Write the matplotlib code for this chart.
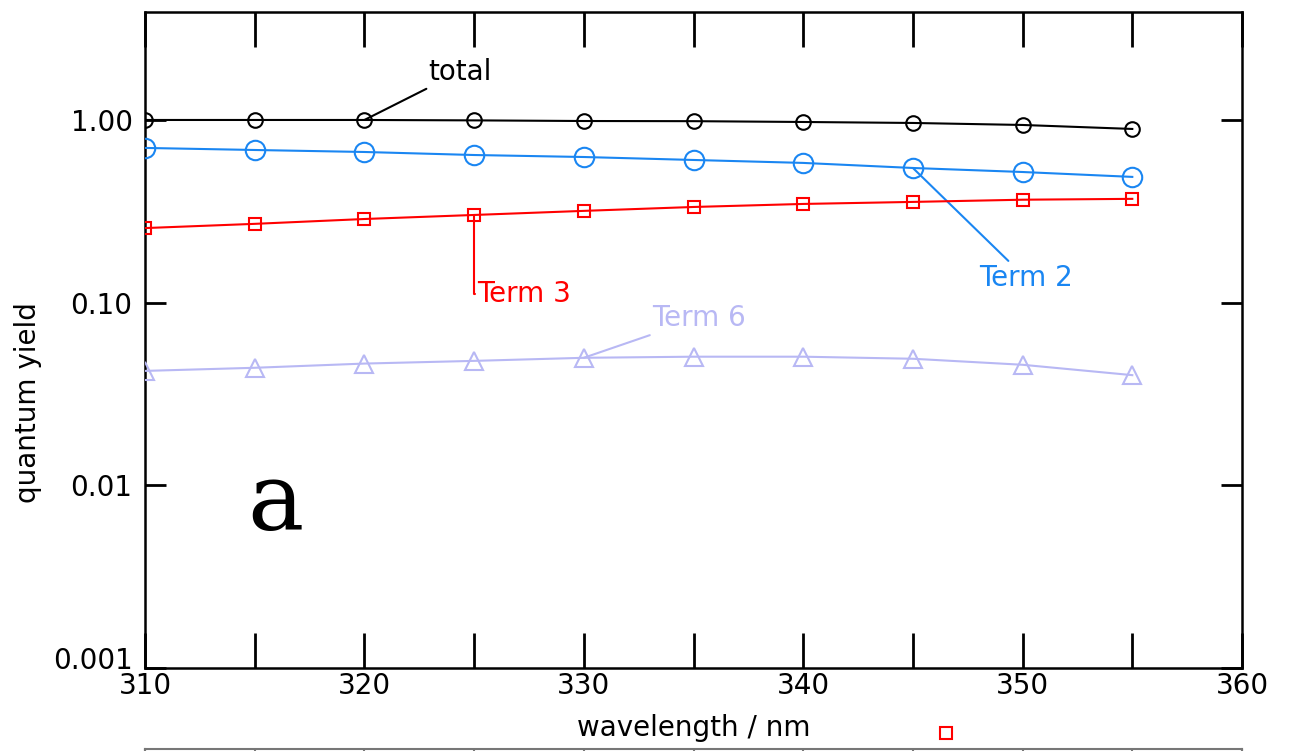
import matplotlib
matplotlib.use("Agg")
import matplotlib.pyplot as plt
import matplotlib.transforms as mtransforms
from matplotlib.lines import Line2D

wavelength = [310, 315, 320, 325, 330, 335, 340, 345, 350, 355]
total = [1.00, 1.00, 1.00, 0.995, 0.987, 0.985, 0.975, 0.963, 0.939, 0.893]
term2 = [0.703, 0.685, 0.668, 0.643, 0.627, 0.604, 0.582, 0.546, 0.519, 0.488]
term3 = [0.256, 0.270, 0.287, 0.302, 0.318, 0.334, 0.347, 0.356, 0.366, 0.370]
term6 = [0.0423, 0.0440, 0.0464, 0.0480, 0.0499, 0.0506, 0.0506, 0.0493, 0.0457, 0.0401]

xticks = [310, 320, 330, 340, 350, 360]
yticks = [0.001, 0.01, 0.1, 1.0]
ylabels = ["0.001", "0.01", "0.10", "1.00"]

plt.rcParams['font.family'] = ['DejaVu Sans']

W, H = 1292, 751
fig = plt.figure(figsize=(W / 100, H / 100), dpi=100)
ax = fig.add_axes([145 / W, 1 - 668 / H, (1242 - 145) / W, (668 - 12) / H])

black = "#000000"
blue = "#1a86f2"
red = "#ff0000"
lav = "#b8b8f4"

lw = 1.5
ax.plot(wavelength, total, color=black, lw=lw, marker='o', ms=10.5, mfc='none', mew=1.5, zorder=5)
ax.plot(wavelength, term2, color=blue, lw=lw, marker='o', ms=14, mfc='none', mew=1.5, zorder=4)
ax.plot(wavelength, term3, color=red, lw=lw, marker='s', ms=9, mfc='none', mew=1.5, zorder=4)
ax.plot(wavelength, term6, color=lav, lw=lw, marker='^', ms=13, mfc='none', mew=1.5, zorder=3)

ax.set_yscale('log')
ax.set_xlim(310, 360)
ax.set_ylim(0.001, 3.9)
ax.set_xticks(xticks)
ax.set_xticks(list(range(310, 361, 5)), minor=True)
ax.set_yticks(yticks)
ax.set_yticklabels(ylabels)
ax.yaxis.set_minor_locator(matplotlib.ticker.NullLocator())

FS = 20
ax.tick_params(axis='x', which='both', direction='in', length=25, width=2, top=True,
               labelsize=FS, pad=3)
ax.tick_params(axis='y', which='major', direction='in', length=15, width=2, right=True,
               labelsize=FS, pad=9)
# lift the lowest y label a bit, as in the reference
lbl0 = ax.get_yticklabels()[0]
lbl0.set_transform(lbl0.get_transform() + mtransforms.ScaledTranslation(0, 10 / 100, fig.dpi_scale_trans))
for sp in ax.spines.values():
    sp.set_linewidth(1.8)

ax.set_xlabel("wavelength / nm", fontsize=FS, labelpad=10)
ax.set_ylabel("quantum yield", fontsize=FS)
ax.yaxis.set_label_coords(-0.094, 0.405)

ann_kw = dict(fontsize=FS, textcoords='data', annotation_clip=False)
ax.annotate("total", xy=(320, 1.0), xytext=(322.9, 1.83), color=black,
            arrowprops=dict(arrowstyle='-', color=black, lw=1.5, shrinkA=0, shrinkB=0),
            va='center', ha='left', **ann_kw)
ax.annotate("Term 2", xy=(345, 0.546), xytext=(348.0, 0.137), color=blue,
            arrowprops=dict(arrowstyle='-', color=blue, lw=1.5, shrinkA=0, shrinkB=0),
            va='center', ha='left', **ann_kw)
ax.annotate("Term 3", xy=(325, 0.302), xytext=(325.15, 0.112), color=red,
            arrowprops=dict(arrowstyle='-', color=red, lw=1.5, shrinkA=0, shrinkB=0,
                            connectionstyle='angle,angleA=0,angleB=90,rad=0'),
            va='center', ha='left', **ann_kw)
ax.annotate("Term 6", xy=(330, 0.0499), xytext=(333.1, 0.082), color=lav,
            arrowprops=dict(arrowstyle='-', color=lav, lw=1.5, shrinkA=0, shrinkB=0),
            va='center', ha='left', **ann_kw)

ax.text(0.093, 0.25, "a", transform=ax.transAxes, fontsize=68, family='DejaVu Serif',
        va='center', ha='left')

# partial lower panel frame (clipped at figure bottom)
ax2 = fig.add_axes([145 / W, -0.5, (1242 - 145) / W, 0.5 + (1 - 749 / H)])
ax2.set_xlim(310, 360)
ax2.set_xticks(list(range(310, 361, 5)))
ax2.tick_params(axis='x', direction='in', length=25, width=1.5, top=True, labelbottom=False,
                color='#777777')
ax2.set_yticks([])
for sp in ax2.spines.values():
    sp.set_color('#777777')
    sp.set_linewidth(1.5)

fig.add_artist(Line2D([946 / W], [1 - 733 / H], marker='s', ms=8, mfc='none', mec=red,
                      mew=1.5, transform=fig.transFigure))

fig.savefig("out.png", dpi=100)
